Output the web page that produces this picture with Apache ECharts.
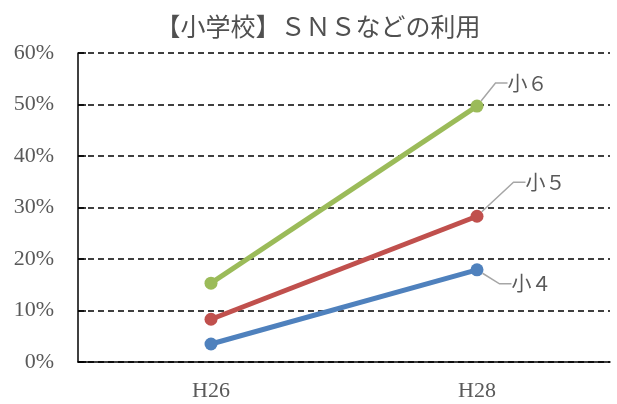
<!DOCTYPE html>
<html><head><meta charset="utf-8">
<script src="https://cdn.jsdelivr.net/npm/echarts@6/dist/echarts.min.js"></script>
<style>html,body{margin:0;padding:0;background:#fff}#c{width:617px;height:404px}</style>
</head><body><div id="c"></div>
<script>
const categories = ['H26', 'H28'];
const seriesNames = ['小４', '小５', '小６'];
const s4 = [3.5, 17.9];
const s5 = [8.3, 28.3];
const s6 = [15.3, 49.7];
const yTicks = [0, 10, 20, 30, 40, 50, 60];

const serif = '"Liberation Serif", "Noto Sans CJK JP", serif';
const colors = ['#4f81bd', '#c0504d', '#9bbb59'];
const offsets = [[23, 14], [37, -34], [19, -23]];
const vals = [s4, s5, s6];

const chart = echarts.init(document.getElementById('c'), null, {renderer: 'canvas'});
chart.setOption({
  animation: false,
  title: {
    text: '【小学校】ＳＮＳなどの利用',
    left: 313, top: 9, textAlign: 'center',
    textStyle: {fontFamily: '"Noto Sans CJK JP", serif', fontSize: 25, fontWeight: 'normal', color: '#505050'}
  },
  grid: {left: 78, right: 7, top: 53, bottom: 42},
  xAxis: {
    type: 'category', data: categories, boundaryGap: true,
    axisLine: {lineStyle: {color: '#000', width: 1.5}},
    axisTick: {show: false},
    axisLabel: {fontFamily: serif, fontSize: 22, color: '#595959', margin: 18}
  },
  yAxis: {
    type: 'value', min: yTicks[0], max: yTicks[yTicks.length - 1], interval: 10,
    axisLine: {show: true, lineStyle: {color: '#000', width: 1.5}},
    axisTick: {show: true, inside: true, length: 8, lineStyle: {color: '#000', width: 1.5}},
    axisLabel: {formatter: '{value}%', fontFamily: serif, fontSize: 22, color: '#595959', margin: 24},
    splitLine: {show: true, lineStyle: {color: '#000', width: 1.5, type: [6, 4]}}
  },
  series: vals.map((v, i) => ({
    name: seriesNames[i], type: 'line', data: v.map((d, j) => j === v.length - 1 ? {
      value: d,
      label: {show: true, formatter: seriesNames[i]}
    } : d),
    lineStyle: {width: 5, color: colors[i]},
    itemStyle: {color: colors[i]},
    symbol: 'circle', symbolSize: 13,
    label: {show: false, position: 'right', fontFamily: '"Noto Sans CJK JP", serif', fontSize: 20, color: '#595959'},
    labelLayout: {dx: offsets[i][0], dy: offsets[i][1]},
    labelLine: {show: true, length2: 12, lineStyle: {color: '#a6a6a6', width: 1.5}}
  }))
});
</script></body></html>
